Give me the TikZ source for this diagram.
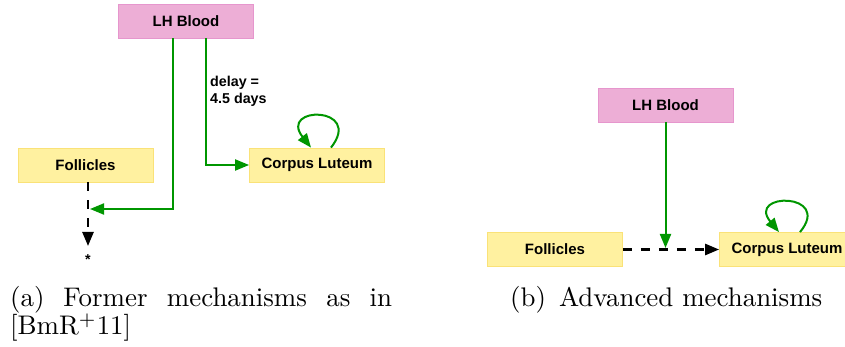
\documentclass[tikz,border=0pt]{standalone}
\usepackage{fontspec}
\usepackage{graphicx}
\newfontfamily\nodefont{Liberation Sans}
\usetikzlibrary{arrows.meta}
\definecolor{nodeyellow}{RGB}{255,241,160}
\definecolor{nodeyellowline}{RGB}{250,226,120}
\definecolor{nodepink}{RGB}{237,174,214}
\definecolor{nodepinkline}{RGB}{230,150,205}
\definecolor{arrgreen}{RGB}{0,150,0}
\begin{document}
\begin{tikzpicture}[x=1pt,y=-1pt,
  box/.style={draw=nodeyellowline, fill=nodeyellow, line width=0.8pt,
    minimum width=135pt, minimum height=34pt, inner sep=0pt,
    font={\nodefont\bfseries\fontsize{15}{18}\selectfont}},
  pinkbox/.style={box, draw=nodepinkline, fill=nodepink},
  garrow/.style={draw=arrgreen, line width=2pt, -{Triangle[length=14pt,width=11pt]}},
  darrow/.style={draw=black, line width=2.5pt, dash pattern=on 9pt off 9pt,
    -{Triangle[length=14pt,width=11pt]}},
  lbl/.style={inner sep=0pt, font={\nodefont\bfseries\fontsize{14.3}{17.2}\selectfont}},
  caption/.style={anchor=base west, inner sep=0pt}]
\useasboundingbox (0,0) rectangle (845,347);
% (a)
\node[pinkbox] (lhA) at (186,21) {LH Blood};
\node[box] (folA) at (85.5,165) {Follicles};
\node[box] (clA) at (317,165) {Corpus Luteum};
\node[lbl, anchor=north] (starA) at (88,254) {*};
\node[lbl, anchor=north west, align=left] (dl) at (210,76) {delay =\\4.5 days};
\coordinate (jA) at (88,209);
\coordinate (dA) at (folA.south -| jA);
\draw[darrow] (dA) -- ([yshift=8pt]starA.north);
\draw[garrow] ([xshift=-13.5pt]lhA.south) |- ([xshift=2pt]jA);
\draw[garrow] ([xshift=19.7pt]lhA.south) |- (clA.west);
\draw[garrow] ([xshift=14pt]clA.north) .. controls +(33,-42) and +(-33,-42) .. ([xshift=-6pt]clA.north);
% (b)
\node[pinkbox] (lhB) at (665.5,105) {LH Blood};
\node[box] (folB) at (555,249.5) {Follicles};
\node[box] (clB) at (787,249.5) {Corpus Luteum};
\draw[darrow] (folB.east) -- (clB.west);
\draw[garrow] (lhB.south) -- ([yshift=1.5pt]lhB.south |- folB.east);
\draw[garrow] ([xshift=13pt]clB.north) .. controls +(33,-40) and +(-33,-40) .. ([xshift=-8pt]clB.north);
% captions
\node[caption] (capA) at (10,306.7) {\scalebox{2.69}{\vtop{\baselineskip=10.5pt
  \hbox to 142pt{(a)\hspace{7pt}Former\hfill mechanisms\hfill as\hfill in}\hbox{[BmR$^{+}$11]}}}};
\node[caption] (capB) at (510,306.7) {\scalebox{2.69}{(b)\hspace{4.8pt}Advanced mechanisms}};
\end{tikzpicture}
\end{document}
